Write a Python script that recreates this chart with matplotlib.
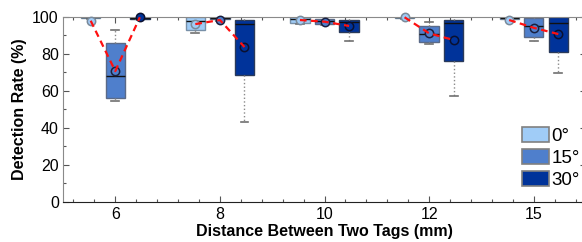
import matplotlib
matplotlib.use("Agg")
import matplotlib.pyplot as plt
from matplotlib.patches import Patch
from matplotlib.ticker import MultipleLocator

plt.rcParams['font.family'] = ['Liberation Sans', 'DejaVu Sans']

categories = ['6', '8', '10', '12', '15']
angles = ['0°', '15°', '30°']

# Box statistics per angle (one value per distance category)
q1_0 = [99.5, 92.8, 96.8, 99.5, 99.0]
med_0 = [100.0, 97.8, 98.5, 100.0, 99.5]
q3_0 = [100.0, 99.8, 100.0, 100.0, 100.0]
lo_0 = [99.0, 91.0, 96.0, 99.0, 98.5]
hi_0 = [100.0, 100.0, 100.0, 100.0, 100.0]
mean_0 = [97.8, 96.0, 98.2, 99.7, 98.2]

q1_15 = [55.9, 98.5, 96.0, 86.3, 89.2]
med_15 = [68.2, 99.5, 97.5, 90.6, 95.0]
q3_15 = [85.6, 100.0, 98.8, 95.0, 99.1]
lo_15 = [54.6, 97.5, 95.5, 85.0, 86.9]
hi_15 = [92.8, 100.0, 100.0, 97.3, 100.0]
mean_15 = [70.6, 98.2, 97.3, 91.0, 94.0]

q1_30 = [99.0, 68.3, 91.6, 76.2, 81.1]
med_30 = [99.5, 95.9, 97.1, 96.8, 96.4]
q3_30 = [100.0, 98.2, 98.2, 98.2, 99.7]
lo_30 = [98.5, 42.9, 86.9, 57.1, 69.7]
hi_30 = [100.0, 100.0, 100.0, 99.7, 100.0]
mean_30 = [99.7, 83.6, 95.0, 87.4, 90.6]

colors = ['#A0CCF7', '#4F7FCC', '#00339A']
edge_colors = ['#7890A8', '#5A6A88', '#2A3A5A']

series = [
    (q1_0, med_0, q3_0, lo_0, hi_0, mean_0),
    (q1_15, med_15, q3_15, lo_15, hi_15, mean_15),
    (q1_30, med_30, q3_30, lo_30, hi_30, mean_30),
]

offsets = [-0.235, 0.0, 0.235]
width = 0.185

fig = plt.figure(figsize=(5.82, 2.42), dpi=100)
ax = fig.add_axes([0.1082, 0.1665, 0.8988, 0.7645])

for k, (q1, med, q3, lo, hi, mn) in enumerate(series):
    stats = []
    for i in range(len(categories)):
        stats.append(dict(q1=q1[i], med=med[i], q3=q3[i], whislo=lo[i],
                          whishi=hi[i], fliers=[], mean=mn[i]))
    pos = [i + 1 + offsets[k] for i in range(len(categories))]
    ax.bxp(stats, positions=pos, widths=width, patch_artist=True,
           showfliers=False, showmeans=False, capwidths=0.075,
           boxprops=dict(facecolor=colors[k], edgecolor=edge_colors[k], linewidth=1.0),
           medianprops=dict(color='#111111', linewidth=1.0),
           whiskerprops=dict(color='#8a8a8a', linestyle=':', linewidth=1.0),
           capprops=dict(color='#707070', linewidth=1.2))

# mean markers
mean_edges = ['#7a8a9a', '#1A2040', '#0A1030']
for k, s in enumerate(series):
    mn = s[5]
    pos = [i + 1 + offsets[k] for i in range(len(categories))]
    ax.plot(pos, mn, linestyle='none', marker='o', markersize=6,
            markerfacecolor=colors[k], markeredgecolor=mean_edges[k],
            markeredgewidth=1.1, zorder=5, clip_on=False)

# red dashed line connecting means within each category
for i in range(len(categories)):
    xs = [i + 1 + offsets[k] for k in range(3)]
    ys = [series[k][5][i] for k in range(3)]
    ax.plot(xs, ys, color='#FF1010', linestyle=(0, (3, 2)), linewidth=1.6,
            zorder=6, clip_on=False)

ax.set_xlim(0.5, 5.5)
ax.set_ylim(0, 100)
ax.set_xticks(range(1, len(categories) + 1))
ax.set_xticklabels(categories)
ax.set_yticks([0, 20, 40, 60, 80, 100])
ax.xaxis.set_minor_locator(MultipleLocator(0.2))
ax.yaxis.set_minor_locator(MultipleLocator(10))
ax.tick_params(which='both', direction='in', top=True, right=True,
               labelsize=11.5, color='#555555')
ax.tick_params(which='major', length=4, width=0.8)
ax.tick_params(which='minor', length=2.5, width=0.8)
ax.tick_params(axis='x', pad=4)
ax.tick_params(axis='y', pad=3)

for side in ['left', 'top', 'right']:
    ax.spines[side].set_color('#8a8a8a')
ax.spines['bottom'].set_color('#222222')

ax.set_xlabel('Distance Between Two Tags (mm)', fontsize=11.5, fontweight='bold', labelpad=1)
ax.set_ylabel('Detection Rate (%)', fontsize=11.5, fontweight='bold', labelpad=4)

handles = [Patch(facecolor=colors[k], edgecolor='#808080', linewidth=1.2) for k in range(3)]
ax.legend(handles, angles, loc='lower left', bbox_to_anchor=(0.877, 0.07),
          frameon=False, fontsize=13.5, handlelength=1.45, handleheight=0.9,
          handletextpad=0.15, labelspacing=0.2, borderpad=0, borderaxespad=0)

fig.savefig('out.png', dpi=100)
